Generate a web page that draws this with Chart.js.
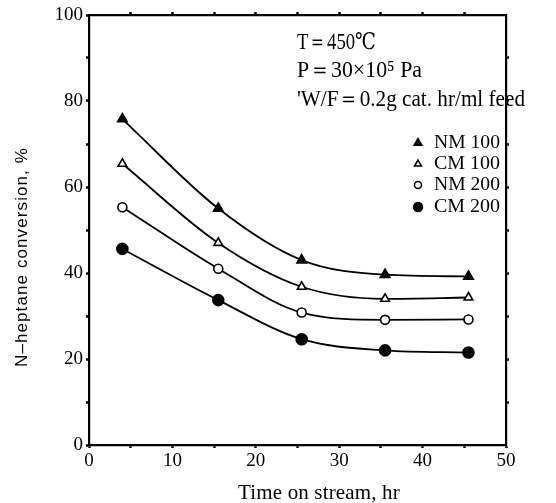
<!DOCTYPE html>
<html>
<head>
<meta charset="utf-8">
<script src="https://cdn.jsdelivr.net/npm/chart.js@4/dist/chart.umd.min.js"></script>
<style>
  html, body { margin: 0; padding: 0; background: #fff; }
  #wrap { width: 556px; height: 503px; }
</style>
</head>
<body>
<div id="wrap"><canvas id="chart"></canvas></div>
<script>
// ─── Datos ────────────────────────────────────────────────────────────────
const tiempos = [4, 15.5, 25.5, 35.5, 45.5];
const nm100 = [75.8, 55.0, 43.0, 39.6, 39.2];
const cm100 = [65.4, 47.0, 36.8, 34.0, 34.3];
const nm200 = [55.3, 41.0, 30.8, 29.1, 29.2];
const cm200 = [45.6, 33.7, 24.6, 22.0, 21.5];
const xTicks = [0, 10, 20, 30, 40, 50];
const yTicks = [0, 20, 40, 60, 80, 100];
const series = ['NM 100', 'CM 100', 'NM 200', 'CM 200'];
const notas = ['T＝450℃', 'P＝30×10⁵ Pa', '\'W/F＝0.2g cat. hr/ml feed'];

const SERIF = '"Liberation Serif", "DejaVu Serif", serif';
const SANS = '"Liberation Sans", "DejaVu Sans", sans-serif';

const puntos = vals => tiempos.map((t, i) => ({ x: t, y: vals[i] }));

const estilos = [
  { data: nm100, style: 'triangle', fill: '#000', r: 5.5 },
  { data: cm100, style: 'triangle', fill: '#fff', r: 5 },
  { data: nm200, style: 'circle', fill: '#fff', r: 4.5 },
  { data: cm200, style: 'circle', fill: '#000', r: 5.5 }
];

const datasets = estilos.map((e, i) => ({
  label: series[i],
  data: puntos(e.data),
  borderColor: '#000',
  borderWidth: 1.8,
  backgroundColor: e.fill,
  pointStyle: e.style,
  pointRadius: e.r,
  pointBorderWidth: 1.6,
  pointBorderColor: '#000',
  pointBackgroundColor: e.fill,
  cubicInterpolationMode: 'monotone',
  fill: false,
  xAxisID: 'x',
  yAxisID: 'y'
}));

// texto con espaciado ajustado a un ancho dado
function textoEspaciado(ctx, txt, x, y, ancho) {
  ctx.letterSpacing = '0px';
  const w = ctx.measureText(txt).width;
  const n = [...txt].length;
  ctx.letterSpacing = ((ancho - w) / n).toFixed(2) + 'px';
  ctx.fillText(txt, x, y);
  ctx.letterSpacing = '0px';
}

// texto estrecho y alto (como en la figura impresa): se escala en horizontal
function textoEscalado(ctx, txt, x, y, ancho) {
  const w = ctx.measureText(txt).width;
  ctx.save();
  ctx.translate(x, y);
  ctx.scale(ancho / w, 1);
  ctx.fillText(txt, 0, 0);
  ctx.restore();
}

// Textos, títulos y leyenda dibujados a mano
const textosPlugin = {
  id: 'textos',
  afterDraw(chart) {
    const ctx = chart.ctx;
    ctx.save();
    ctx.fillStyle = '#000';
    ctx.textBaseline = 'middle';
    ctx.textAlign = 'left';

    // Título eje Y
    ctx.save();
    ctx.translate(22, 367);
    ctx.rotate(-Math.PI / 2);
    ctx.font = '17px ' + SANS;
    textoEspaciado(ctx, 'N–heptane conversion, %', 0, 0, 220);
    ctx.restore();

    // Título eje X
    ctx.font = '21px ' + SERIF;
    textoEspaciado(ctx, 'Time on stream, hr', 238, 493, 162);

    // Condiciones
    ctx.font = '23px ' + SERIF;
    const ys = [43, 71, 100];
    const anchos = [79, 125, 228];
    notas.forEach((t, i) => textoEscalado(ctx, t, 297, ys[i], anchos[i]));

    // Leyenda
    const ly = [143, 164, 185, 207];
    estilos.forEach((e, i) => {
      ctx.fillStyle = e.fill;
      ctx.strokeStyle = '#000';
      ctx.lineWidth = 1.5;
      Chart.helpers.drawPoint(ctx, { pointStyle: e.style, radius: e.r - 1, rotation: 0, borderWidth: 1.5 }, 418, ly[i]);
      ctx.fillStyle = '#000';
      ctx.font = '19px ' + SERIF;
      textoEscalado(ctx, series[i], 434, ly[i], 66);
    });
    ctx.restore();
  }
};

const tickFont = { family: SERIF, size: 19 };
const marca = { color: '#000', drawOnChartArea: false, tickLength: 3, tickWidth: 2.5 };
const borde = { display: true, color: '#000', width: 2.2 };

new Chart(document.getElementById('chart'), {
  type: 'line',
  data: { datasets },
  plugins: [textosPlugin],
  options: {
    responsive: true,
    maintainAspectRatio: false,
    animation: false,
    layout: { padding: 0 },
    plugins: { legend: { display: false }, tooltip: { enabled: false } },
    scales: {
      x: {
        type: 'linear', position: 'bottom', min: 0, max: 50,
        afterFit: s => { s.height = 58; },
        afterBuildTicks: s => { s.ticks = [0,5,10,15,20,25,30,35,40,45,50].map(v => ({ value: v })); },
        ticks: { color: '#000', font: tickFont, padding: 2, maxRotation: 0,
                 callback: v => xTicks.includes(v) ? String(v) : '' },
        grid: marca, border: borde
      },
      x2: {
        type: 'linear', position: 'top', min: 0, max: 50,
        afterFit: s => { s.height = 15; },
        afterBuildTicks: s => { s.ticks = [5,10,15,20,25,30,35,40,45].map(v => ({ value: v })); },
        ticks: { display: false },
        grid: marca, border: borde
      },
      y: {
        type: 'linear', position: 'left', min: 0, max: 100,
        afterFit: s => { s.width = 89; },
        afterBuildTicks: s => { s.ticks = [0,10,20,30,40,50,60,70,80,90,100].map(v => ({ value: v })); },
        ticks: { color: '#000', font: tickFont, padding: 3,
                 callback: v => yTicks.includes(v) ? String(v) : '' },
        grid: marca, border: borde
      },
      y2: {
        type: 'linear', position: 'right', min: 0, max: 100,
        afterFit: s => { s.width = 50; },
        afterBuildTicks: s => { s.ticks = [10,20,30,40,50,60,70,80,90].map(v => ({ value: v })); },
        ticks: { display: false },
        grid: marca, border: borde
      }
    }
  }
});
</script>
</body>
</html>
